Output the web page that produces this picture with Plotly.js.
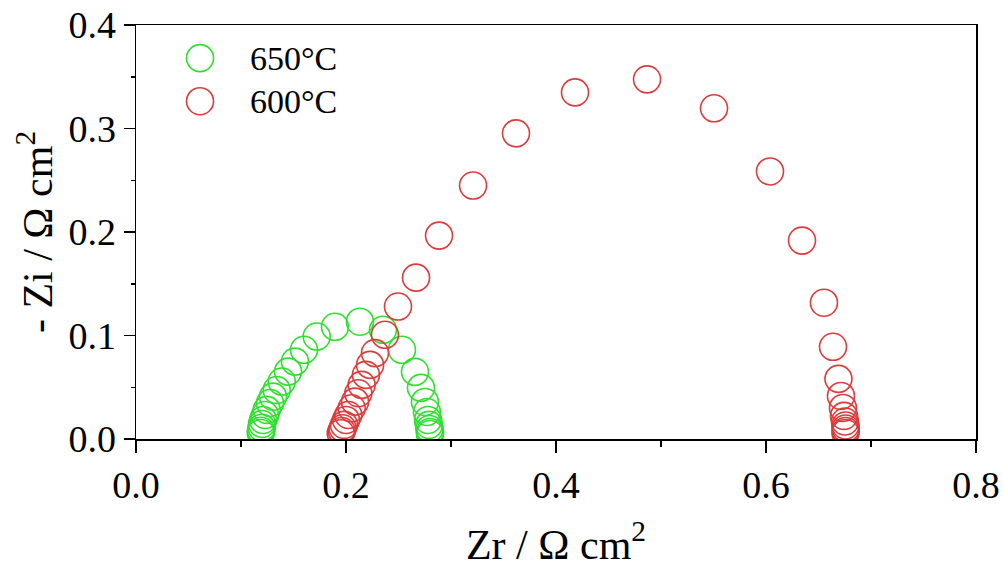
<!DOCTYPE html>
<html>
<head>
<meta charset="utf-8">
<script src="https://cdn.plot.ly/plotly-3.0.1.min.js"></script>
<style>html,body{margin:0;padding:0;background:#fff;}#chart{width:1003px;height:574px;}</style>
</head>
<body>
<div id="chart"></div>
<script>
// 650 °C series (Zr, -Zi) in Ω cm²
const seriesNames = ['650°C', '600°C'];
const zr650 = [0.1188, 0.1190, 0.1197, 0.1200, 0.1210, 0.1229, 0.1245, 0.1276, 0.1305, 0.1340, 0.1388, 0.1448, 0.1514, 0.1600, 0.1721, 0.1895, 0.2133, 0.2352, 0.2533, 0.2657, 0.2714, 0.2752, 0.2771, 0.2781, 0.2790, 0.2795, 0.2800, 0.2800];
const zi650 = [0.0058, 0.0080, 0.0109, 0.0145, 0.0184, 0.0232, 0.0281, 0.0348, 0.0409, 0.0474, 0.0555, 0.0651, 0.0748, 0.0862, 0.0990, 0.1084, 0.1133, 0.1055, 0.0862, 0.0649, 0.0494, 0.0358, 0.0261, 0.0184, 0.0136, 0.0097, 0.0068, 0.0048];
// 600 °C series
const zr600 = [0.1950, 0.1959, 0.1968, 0.1981, 0.2000, 0.2022, 0.2054, 0.2086, 0.2117, 0.2149, 0.2190, 0.2229, 0.2276, 0.2371, 0.2495, 0.2667, 0.2886, 0.3210, 0.3619, 0.4181, 0.4867, 0.5505, 0.6038, 0.6343, 0.6552, 0.6638, 0.6690, 0.6714, 0.6733, 0.6743, 0.6752, 0.6757, 0.6759, 0.6759, 0.6757];
const zi600 = [0.0055, 0.0077, 0.0104, 0.0136, 0.0184, 0.0232, 0.0297, 0.0361, 0.0442, 0.0523, 0.0620, 0.0716, 0.0830, 0.1007, 0.1280, 0.1559, 0.1965, 0.2449, 0.2953, 0.3349, 0.3475, 0.3195, 0.2585, 0.1917, 0.1317, 0.0891, 0.0581, 0.0416, 0.0300, 0.0223, 0.0169, 0.0131, 0.0102, 0.0077, 0.0058];
const colors = ['#2fe02f', '#dc3c3c'];

const FONT = 'Liberation Serif, Times New Roman, serif';
const mk = (c) => ({symbol: 'circle-open', size: 27, color: c, line: {color: c, width: 1.6}});

const traces = [
  {x: zr650, y: zi650, name: seriesNames[0], mode: 'markers', type: 'scatter', marker: mk(colors[0]), showlegend: false},
  {x: zr600, y: zi600, name: seriesNames[1], mode: 'markers', type: 'scatter', marker: mk(colors[1]), showlegend: false}
];

const legY = [0.920, 0.816];
const shapes = [], annotations = [];
seriesNames.forEach((n, i) => {
  shapes.push({type: 'circle', xref: 'paper', yref: 'paper', xsizemode: 'pixel', ysizemode: 'pixel',
    xanchor: 0.0762, yanchor: legY[i], x0: -13.5, x1: 13.5, y0: -13.5, y1: 13.5,
    line: {color: colors[i], width: 1.6}});
  annotations.push({xref: 'paper', yref: 'paper', x: 0.1333, y: legY[i], xanchor: 'left', yanchor: 'middle',
    text: n, showarrow: false, font: {family: FONT, size: 34, color: '#000'}});
});

const axisCommon = {
  showline: true, linecolor: '#000', linewidth: 1.5, mirror: true,
  ticks: 'outside', tickwidth: 1.5, tickcolor: '#000',
  showgrid: false, zeroline: false,
  tickfont: {family: FONT, size: 38, color: '#000'}
};

const layout = {
  width: 1003, height: 574,
  margin: {l: 136, r: 27, t: 25, b: 135},
  paper_bgcolor: '#fff', plot_bgcolor: '#fff',
  xaxis: Object.assign({}, axisCommon, {range: [0, 0.8], dtick: 0.2, tick0: 0, tickformat: '.1f', ticklen: 12,
    minor: {ticks: 'outside', ticklen: 6, tickwidth: 1.5, tickcolor: '#000', dtick: 0.1},
    title: {text: 'Zr / Ω cm<sup>2</sup>', font: {family: FONT, size: 42, color: '#000'}, standoff: 24}}),
  yaxis: Object.assign({}, axisCommon, {range: [0, 0.4], dtick: 0.1, tick0: 0, tickformat: '.1f', ticklen: 11,
    minor: {ticks: 'outside', ticklen: 4, tickwidth: 1.5, tickcolor: '#000', dtick: 0.05},
    title: {text: '- Zi / Ω cm<sup>2</sup>', font: {family: FONT, size: 42, color: '#000'}, standoff: 2}}),
  shapes: shapes, annotations: annotations, showlegend: false
};

Plotly.newPlot('chart', traces, layout, {displayModeBar: false, staticPlot: true});
</script>
</body>
</html>
